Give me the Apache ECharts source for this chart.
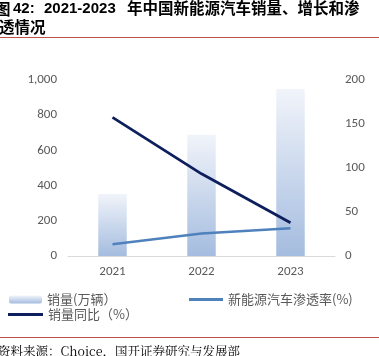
<!DOCTYPE html>
<html><head><meta charset="utf-8">
<script src="https://cdn.jsdelivr.net/npm/echarts@6/dist/echarts.min.js"></script>
<style>html,body{margin:0;padding:0;background:#fff}#c{width:379px;height:356px}</style>
</head><body><div id="c"></div>
<script>
const categories = ['2021', '2022', '2023'];
const sales = [352, 688.7, 949.5];
const yoy = [157.5, 93.4, 37.9];
const penetration = [13.4, 25.6, 31.6];
const leftTicks = [0, 200, 400, 600, 800, 1000];
const rightTicks = [0, 50, 100, 150, 200];

const chart = echarts.init(document.getElementById('c'), null, {renderer: 'canvas'});
const font = '"Noto Sans CJK SC", "Noto Sans", sans-serif';
const latinBold = 'bold 15px "Liberation Sans", sans-serif';
const cjkBold = 'bold 15.5px "Noto Sans CJK SC", sans-serif';
const axisFont = 'Carlito, Calibri, "Liberation Sans", "Noto Sans", sans-serif';
chart.setOption({
  animation: false,
  textStyle: {fontFamily: font},
  grid: {left: 68, right: 44, top: 80, bottom: 100},
  xAxis: {
    type: 'category', data: categories,
    axisLine: {lineStyle: {color: '#d9d9d9'}},
    axisTick: {show: false},
    axisLabel: {color: '#595959', fontSize: 13, margin: 9, fontFamily: axisFont}
  },
  yAxis: [{
    type: 'value', min: leftTicks[0], max: leftTicks[leftTicks.length-1], interval: 200,
    axisLine: {show: false}, axisTick: {show: false}, splitLine: {show: false},
    axisLabel: {color: '#595959', fontSize: 13, margin: 11, fontFamily: axisFont,
      formatter: v => v.toLocaleString('en-US')}
  }, {
    type: 'value', min: rightTicks[0], max: rightTicks[rightTicks.length-1], interval: 50,
    axisLine: {show: false}, axisTick: {show: false}, splitLine: {show: false},
    axisLabel: {color: '#595959', fontSize: 13, margin: 10, fontFamily: axisFont}
  }],
  legend: [{
    data: ['销量(万辆）'], left: 4, top: 288, itemWidth: 33, itemHeight: 8, itemGap: 5,
    textStyle: {color: '#595959', fontSize: 13, fontFamily: font}
  }, {
    data: [{name: '新能源汽车渗透率(%)', icon: 'rect'}], left: 184, top: 288, itemWidth: 34, itemHeight: 3,
    textStyle: {color: '#595959', fontSize: 13, fontFamily: font}
  }, {
    data: [{name: '销量同比（%）', icon: 'rect'}], left: 3, top: 303, itemWidth: 35, itemHeight: 3,
    textStyle: {color: '#595959', fontSize: 13, fontFamily: font}
  }],
  series: [{
    name: '销量(万辆）', type: 'bar', data: sales, barWidth: '32%', yAxisIndex: 0,
    itemStyle: {color: new echarts.graphic.LinearGradient(0, 0, 0, 1, [
      {offset: 0, color: '#f1f4fa'}, {offset: 1, color: '#a4bcdf'}])}
  }, {
    name: '新能源汽车渗透率(%)', type: 'line', data: penetration, yAxisIndex: 1,
    symbol: 'none', lineStyle: {color: '#4f81bd', width: 2.5}, itemStyle: {color: '#4f81bd'}
  }, {
    name: '销量同比（%）', type: 'line', data: yoy, yAxisIndex: 1,
    symbol: 'none', lineStyle: {color: '#0d1f5c', width: 2.8}, itemStyle: {color: '#0d1f5c'}
  }],
  graphic: [
    {type: 'text', x: -5, y: 1, style: {text: '图', font: cjkBold, fill: '#000'}},
    {type: 'text', x: 13, y: 1, style: {text: '42:', font: latinBold, fill: '#000'}},
    {type: 'text', x: 44, y: 1, style: {text: '2021-2023', font: latinBold, fill: '#000'}},
    {type: 'text', x: 127, y: 0, style: {text: '年中国新能源汽车销量、增长和渗', font: cjkBold, fill: '#000'}},
    {type: 'text', x: -1, y: 19, style: {text: '透情况', font: cjkBold, fill: '#000'}},
    {type: 'rect', shape: {x: 0, y: 37, width: 379, height: 1}, style: {fill: '#c0504d'}},
    {type: 'rect', shape: {x: 0, y: 337, width: 379, height: 1}, style: {fill: '#c0504d'}},
    {type: 'text', x: -2, y: 345, style: {text: '资料来源：Choice，国开证券研究与发展部', font: '12.5px "Noto Serif CJK SC", "Liberation Serif", ' + font, fill: '#000'}}
  ]
});
</script></body></html>
